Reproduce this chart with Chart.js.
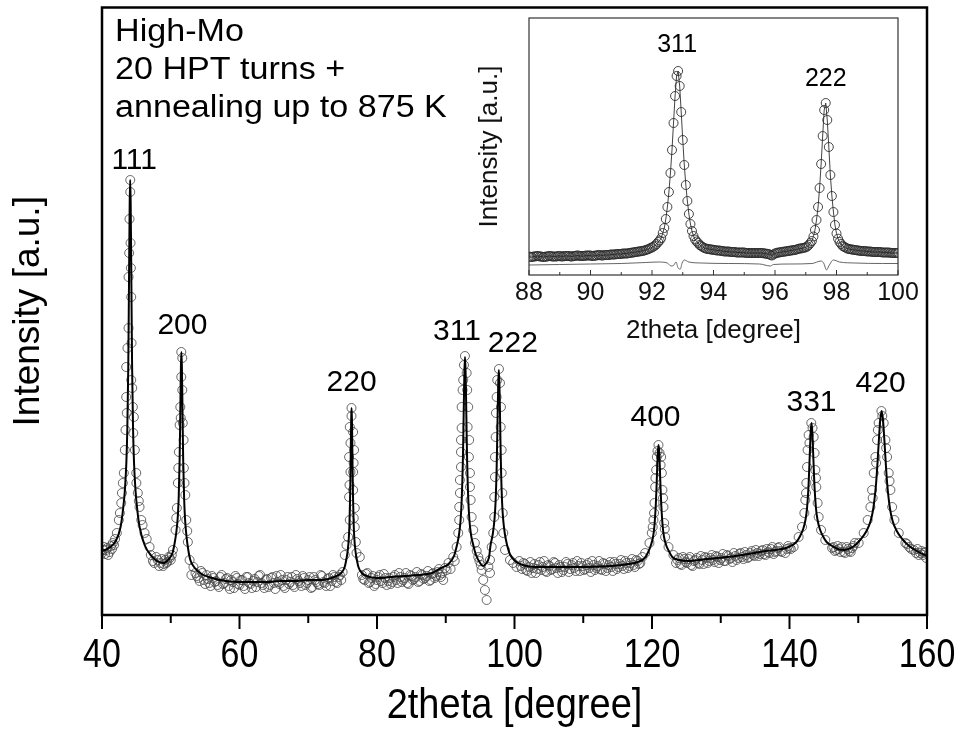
<!DOCTYPE html>
<html>
<head>
<meta charset="utf-8">
<title>High-Mo XRD pattern</title>
<script src="https://cdn.jsdelivr.net/npm/chart.js@4.4.1/dist/chart.umd.min.js"></script>
<style>
  html, body { margin: 0; padding: 0; background: #fff; }
  #wrap { position: relative; width: 963px; height: 731px; }
  #mainChart { position: absolute; left: 0; top: 0; }
  #insetChart { position: absolute; left: 460px; top: 0; }
</style>
</head>
<body>
<div id="wrap">
  <canvas id="mainChart" width="963" height="731"></canvas>
  <canvas id="insetChart" width="470" height="350"></canvas>
</div>
<script>
// full scan 40-160 deg: measured points
const obsAngle = [
  // 111 / 200
  40.0, 40.3, 40.61, 40.9, 41.3, 41.57, 41.9, 42.16, 42.45, 42.6,
  42.8, 42.9, 43.03, 43.17, 43.32, 43.42, 43.52, 43.52, 43.6, 43.7,
  43.86, 43.86, 43.95, 44.0, 44.11, 44.11, 44.15, 44.2, 44.25, 44.3,
  44.25, 44.4, 44.49, 44.55, 44.63, 44.78, 44.98, 45.0, 45.21, 45.35,
  45.46, 45.71, 45.9, 46.19, 46.5, 46.92, 47.4, 47.89, 48.3, 48.7,
  49.0, 49.35, 49.7, 50.0, 50.31, 50.7, 50.8, 50.89, 51.04, 51.1,
  51.18, 51.29, 51.39, 51.45, 51.53, 51.53, 51.68, 51.68, 51.75, 51.87,
  51.91, 52.0, 52.12, 52.26, 52.4, 52.49, 52.74,
  // background
  53.0, 53.3, 53.6, 54.0, 54.4, 54.8, 55.2, 55.6, 56.0, 56.4,
  56.8, 57.2, 57.6, 58.0, 58.4, 58.8, 59.2, 59.6, 60.0, 60.4,
  60.8, 61.2, 61.6, 62.0, 62.4, 62.8, 63.2, 63.6, 64.0, 64.4,
  64.8, 65.2, 65.6, 66.0, 66.4, 66.8, 67.2, 67.6, 68.0, 68.4,
  68.8, 69.2, 69.6, 70.0, 70.4, 70.8, 71.2, 71.6, 72.0, 72.4,
  72.8, 73.2, 73.6, 74.0, 74.4, 74.8, 75.0,
  // 220
  75.31, 75.56, 75.80, 76.04, 75.94, 76.0, 76.14, 75.94, 76.14, 76.04,
  76.29, 76.29, 76.53, 76.67, 76.6, 76.53, 76.53, 76.77, 76.62, 76.77,
  76.92, 77.02, 77.50,
  // background
  77.8, 78.2, 78.6, 79.0, 79.4, 79.8, 80.2, 80.6, 81.0, 81.4,
  81.8, 82.2, 82.6, 83.0, 83.4, 83.8, 84.2, 84.6, 85.0, 85.4,
  85.8, 86.2, 86.6, 87.0, 87.4, 87.8, 88.2, 88.6, 89.0, 89.3,
  89.63, 89.9, 90.12, 90.4, 90.7, 91.09, 91.3, 91.58,
  // 311 / 222
  91.82, 91.96, 91.96, 92.06, 92.06, 92.21, 92.21, 92.21, 92.31, 92.31,
  92.45, 92.54, 92.65, 92.79, 93.04, 93.12, 93.27, 93.18, 93.41, 93.37,
  93.52, 93.52, 93.62, 93.77, 94.0, 94.24, 94.5, 94.73, 94.9, 95.1,
  95.22, 95.45, 95.70, 95.95, 96.2, 96.43, 96.43, 96.68, 96.91, 97.06,
  97.06, 97.16, 97.16, 97.26, 97.30, 97.40, 97.49, 97.74, 97.89, 98.03,
  97.99, 98.13, 98.13, 98.23, 98.28, 98.37, 98.62, 99.34, 99.8, 100.3,
  // background
  100.7, 101.1, 101.5, 101.9, 102.3, 102.7, 103.1, 103.5, 103.9, 104.3,
  104.7, 105.1, 105.5, 105.9, 106.3, 106.7, 107.1, 107.5, 107.9, 108.3,
  108.7, 109.1, 109.5, 109.9, 110.3, 110.7, 111.1, 111.5, 111.9, 112.3,
  112.7, 113.1, 113.5, 113.9, 114.3, 114.7, 115.1, 115.5, 115.9, 116.3,
  116.7, 117.1, 117.5, 117.9, 118.3, 118.6,
  // 400
  119.0, 119.63, 119.97, 120.1, 120.21, 120.3, 120.36, 120.46, 120.5, 120.60,
  120.70, 120.8, 120.94, 121.1, 121.25, 121.33, 121.43, 121.52, 121.6, 121.67,
  121.77, 121.85, 121.91, 122.4, 123.12,
  // background
  123.5, 123.9, 124.3, 124.7, 125.1, 125.5, 125.9, 126.3, 126.7, 127.1,
  127.5, 127.9, 128.3, 128.7, 129.1, 129.5, 129.9, 130.3, 130.7, 131.1,
  131.5, 131.9, 132.3, 132.7, 133.1, 133.5, 133.9, 134.3, 134.7, 135.1,
  135.5, 135.9, 136.3, 136.7, 137.1, 137.5, 137.9, 138.3, 138.7, 139.39,
  139.8, 140.2,
  // 331 / 420
  140.6, 141.33, 141.82, 142.16, 142.30, 142.4, 142.45, 142.55, 142.63, 142.78,
  142.9, 143.17, 143.35, 143.51, 143.65, 143.76, 143.85, 143.90, 144.09, 144.24,
  144.59, 145.21, 146.19, 146.6, 147.0, 147.4, 147.88, 148.3, 148.7, 149.10,
  149.5, 150.06, 150.79, 151.37, 151.77, 152.01, 152.1, 152.25, 152.49, 152.6,
  152.74, 152.85, 152.97, 153.37, 153.5, 153.70, 153.95, 154.05, 154.20, 154.43,
  154.55, 154.68, 154.93, 155.26, 155.89, 156.86, 157.4, 158.07, 158.8, 159.2,
  159.53, 159.9,
  // second pass over the flat stretches
  53.8, 54.2, 54.6, 55.0, 55.4, 55.8, 56.2, 56.6, 57.0, 57.4,
  57.8, 58.2, 58.6, 59.0, 59.4, 59.8, 60.2, 60.6, 61.0, 61.4,
  61.8, 62.2, 62.6, 63.0, 63.4, 63.8, 64.2, 64.6, 65.0, 65.4,
  65.8, 66.2, 66.6, 67.0, 67.4, 67.8, 68.2, 68.6, 69.0, 69.4,
  69.8, 70.2, 70.6, 71.0, 71.4, 71.8, 72.2, 72.6, 73.0, 73.4,
  73.8, 74.2, 74.6,
  78.0, 78.4, 78.8, 79.2, 79.6, 80.0, 80.4, 80.8, 81.2, 81.6,
  82.0, 82.4, 82.8, 83.2, 83.6, 84.0, 84.4, 84.8, 85.2, 85.6,
  86.0, 86.4, 86.8, 87.2, 87.6, 88.0, 88.4, 88.8, 89.15, 89.5,
  100.9, 101.3, 101.7, 102.1, 102.5, 102.9, 103.3, 103.7, 104.1, 104.5,
  104.9, 105.3, 105.7, 106.1, 106.5, 106.9, 107.3, 107.7, 108.1, 108.5,
  108.9, 109.3, 109.7, 110.1, 110.5, 110.9, 111.3, 111.7, 112.1, 112.5,
  112.9, 113.3, 113.7, 114.1, 114.5, 114.9, 115.3, 115.7, 116.1, 116.5,
  116.9, 117.3, 117.7, 118.1,
  123.7, 124.1, 124.5, 124.9, 125.3, 125.7, 126.1, 126.5, 126.9, 127.3,
  127.7, 128.1, 128.5, 128.9, 129.3, 129.7, 130.1, 130.5, 130.9, 131.3,
  131.7, 132.1, 132.5, 132.9, 133.3, 133.7, 134.1, 134.5, 134.9, 135.3,
  135.7, 136.1, 136.5, 136.9, 137.3, 137.7, 138.1, 138.5, 138.9, 139.6,
  140.0,
  40.15, 40.45, 40.75, 41.1, 41.45, 41.75, 47.1, 47.6, 48.1, 48.5,
  48.9, 49.2, 49.5, 49.85, 50.15, 146.4, 146.8, 147.2, 147.6, 148.1,
  148.5, 148.9, 149.3, 157.1, 157.7, 158.4, 158.6, 159.0, 159.4, 159.7
];
const obsIntensity = [
  60, 66, 63, 58, 67, 70, 74, 80, 93, 100,
  110, 120, 130, 140, 163, 183, 216, 246, 200, 265,
  285, 336, 360, 394, 421, 433, 370, 345, 316, 270,
  233, 225, 206, 180, 196, 163, 140, 130, 120, 112,
  106, 93, 88, 80, 74, 66, 52, 56, 47, 54,
  49, 50, 56, 53, 63, 83, 95, 105, 130, 145,
  161, 188, 206, 195, 236, 261, 255, 223, 190, 173,
  145, 130, 118, 93, 82, 71, 53,

  38, 46, 40, 35, 42, 33, 38, 30, 37, 31,
  28, 36, 29, 34, 27, 33, 25, 35, 28, 33,
  24, 36, 29, 32, 26, 37, 30, 25, 34, 28,
  36, 24, 31, 38, 27, 33, 29, 36, 26, 34,
  30, 37, 28, 33, 25, 36, 31, 28, 37, 30,
  34, 27, 38, 31, 36, 33, 41,

  58, 68, 76, 93, 116, 128, 141, 156, 170, 186,
  197, 205, 181, 163, 150, 141, 123, 105, 95, 86,
  71, 60, 56,

  38, 33, 40, 31, 37, 29, 36, 32, 39, 28,
  35, 31, 38, 30, 36, 33, 40, 29, 37, 34,
  41, 32, 38, 35, 42, 33, 40, 37, 44, 36,
  33, 45, 43, 50, 44, 56, 52, 66,

  80, 93, 106, 120, 133, 146, 161, 173, 185, 206,
  223, 233, 248, 257, 240, 223, 206, 186, 173, 156,
  140, 126, 113, 96, 83, 70, 62, 56, 52, 48,
  43, 33, 23, 13, 46, 40, 53, 66, 80, 96,
  116, 136, 156, 176, 200, 216, 233, 244, 230, 206,
  186, 163, 140, 120, 100, 80, 63, 53, 50, 46,

  52, 44, 49, 42, 51, 45, 40, 48, 43, 52,
  41, 47, 44, 50, 40, 46, 43, 51, 41, 48,
  45, 52, 42, 47, 44, 50, 41, 48, 45, 52,
  43, 49, 45, 51, 42, 49, 46, 53, 44, 50,
  47, 54, 46, 52, 50, 56,

  60, 70, 80, 86, 93, 100, 110, 126, 135, 143,
  156, 162, 168, 160, 148, 156, 140, 123, 115, 106,
  90, 84, 76, 66, 58,

  50, 55, 48, 54, 50, 56, 47, 53, 50, 57,
  49, 55, 52, 58, 51, 56, 53, 59, 52, 57,
  55, 60, 53, 59, 56, 61, 55, 60, 58, 63,
  57, 62, 59, 64, 60, 66, 61, 65, 62, 60,
  67, 64,

  66, 76, 86, 100, 113, 120, 130, 146, 163, 178,
  170, 190, 185, 176, 160, 143, 135, 126, 110, 96,
  83, 73, 65, 62, 67, 61, 61, 66, 62, 65,
  70, 70, 80, 93, 106, 123, 115, 140, 156, 150,
  173, 183, 190, 202, 197, 190, 173, 165, 156, 140,
  132, 123, 106, 93, 80, 70, 66, 63, 58, 62,
  60, 55,

  37, 32, 40, 29, 34, 27, 35, 32, 26, 38,
  30, 35, 24, 31, 37, 29, 33, 27, 36, 30,
  25, 34, 31, 38, 28, 33, 26, 35, 30, 37,
  29, 33, 25, 36, 31, 28, 38, 32, 27, 35,
  30, 36, 26, 33, 29, 38, 31, 27, 35, 32,
  36, 30, 38,
  34, 39, 30, 35, 27, 33, 38, 30, 35, 32,
  29, 36, 33, 40, 31, 35, 30, 38, 33, 36,
  31, 39, 34, 37, 32, 39, 35, 41, 38, 40,
  47, 50, 43, 46, 40, 49, 44, 51, 46, 42,
  48, 43, 51, 45, 48, 41, 46, 49, 44, 50,
  42, 47, 50, 43, 48, 45, 52, 43, 47, 44,
  50, 42, 48, 46, 51, 44, 49, 47, 52, 45,
  50, 48, 53, 49,
  53, 49, 56, 51, 54, 48, 52, 55, 49, 53,
  56, 50, 55, 53, 57, 50, 55, 52, 58, 54,
  51, 57, 55, 60, 54, 58, 56, 62, 57, 60,
  59, 63, 58, 61, 64, 59, 62, 66, 61, 64,
  65,
  63, 59, 65, 61, 64, 68, 58, 50, 53, 50,
  47, 53, 51, 55, 58, 66, 63, 64, 66, 60,
  64, 61, 67, 69, 64, 60, 64, 60, 58, 61
];

// refined profile for the full scan
const fitAngle = [
  40.0, 41.0, 42.0, 42.7, 43.05, 43.33, 43.54, 43.68, 43.82, 43.89,
  43.96, 44.03, 44.10, 44.17, 44.24, 44.31, 44.38, 44.52, 44.66, 44.87,
  45.15, 45.5, 46.2, 47.2, 48.0, 49.0, 49.6, 50.25, 50.57, 50.83,
  51.03, 51.16, 51.29, 51.355, 51.42, 51.485, 51.55, 51.615, 51.68, 51.745,
  51.81, 51.94, 52.07, 52.27, 52.53, 52.85, 53.5, 54.5, 56.0, 58.0,
  60.0, 62.0, 64.0, 66.0, 68.0, 70.0, 72.0, 74.1, 74.8, 75.3,
  75.55, 75.75, 75.9, 76.0, 76.1, 76.15, 76.2, 76.25, 76.3, 76.35,
  76.4, 76.45, 76.5, 76.6, 76.7, 76.85, 77.05, 77.3, 77.8, 78.5,
  80.0, 82.0, 84.0, 86.0, 88.0, 89.3, 90.4, 91.2, 91.6, 91.92,
  92.16, 92.32, 92.48, 92.56, 92.64, 92.72, 92.80, 92.88, 92.96, 93.04,
  93.12, 93.28, 93.44, 93.68, 94.0, 94.4, 95.0, 95.4, 95.8, 96.3,
  96.52, 96.84, 97.08, 97.24, 97.40, 97.48, 97.56, 97.64, 97.72, 97.80,
  97.88, 97.96, 98.04, 98.20, 98.36, 98.60, 98.92, 99.32, 100.1, 101.2,
  103.0, 106.0, 110.0, 114.0, 116.55, 117.95, 118.95, 119.45, 119.85, 120.15,
  120.35, 120.55, 120.65, 120.75, 120.85, 120.95, 121.05, 121.15, 121.25, 121.35,
  121.55, 121.75, 122.05, 122.45, 122.95, 123.95, 125.5, 128.0, 131.0, 134.0,
  136.5, 138.0, 139.9, 141.0, 141.55, 141.99, 142.32, 142.54, 142.76, 142.87,
  142.98, 143.09, 143.20, 143.31, 143.42, 143.53, 143.64, 143.86, 144.08, 144.41,
  144.85, 145.4, 146.2, 147.0, 148.0, 148.9, 149.4, 150.4, 151.2, 151.8,
  152.2, 152.6, 152.8, 153.0, 153.2, 153.4, 153.6, 153.8, 154.0, 154.2,
  154.6, 155.0, 155.6, 156.4, 157.4, 158.5, 160.0
];
const fitIntensity = [
  62, 65, 72, 86, 103, 123, 150, 183, 246, 299,
  358, 411, 433, 411, 358, 299, 246, 183, 150, 123,
  102, 85, 68, 57, 52, 50, 53, 60, 70, 82,
  97, 116, 153, 183, 218, 248, 261, 248, 218, 183,
  153, 116, 95, 78, 64, 53, 45, 39, 35, 32,
  31, 31, 31, 32, 32, 33, 33, 37, 40, 46,
  54, 63, 75, 90, 120, 143, 171, 195, 205, 195,
  171, 143, 120, 90, 75, 63, 54, 46, 40, 37,
  35, 36, 37, 38, 40, 45, 49, 57, 67, 78,
  93, 113, 149, 179, 213, 243, 256, 243, 213, 179,
  149, 113, 93, 78, 68, 58, 50, 47, 49, 56,
  68, 79, 93, 110, 144, 172, 203, 231, 243, 231,
  203, 172, 144, 110, 93, 79, 68, 59, 52, 48,
  46, 46, 46, 47, 49, 51, 55, 61, 68, 76,
  87, 108, 124, 144, 161, 168, 161, 144, 124, 108,
  87, 76, 68, 62, 56, 53, 52, 54, 56, 59,
  62, 63, 66, 71, 77, 84, 93, 104, 126, 144,
  164, 182, 190, 182, 164, 144, 126, 104, 93, 84,
  77, 71, 67, 64, 63, 65, 67, 74, 82, 92,
  105, 130, 150, 173, 193, 202, 193, 173, 150, 130,
  105, 92, 82, 74, 67, 62, 57
];

const peakHkl = ['111', '200', '220', '311', '222', '400', '331', '420'];
const peakAngle = [44.10, 51.55, 76.3, 92.80, 97.72, 120.95, 143.20, 153.4];

// detail scan 88-100 deg, 0.05 deg steps
const insetAngle = [
  88.00, 88.05, 88.10, 88.15, 88.20, 88.25, 88.30, 88.35, 88.40, 88.45,
  88.50, 88.55, 88.60, 88.65, 88.70, 88.75, 88.80, 88.85, 88.90, 88.95,
  89.00, 89.05, 89.10, 89.15, 89.20, 89.25, 89.30, 89.35, 89.40, 89.45,
  89.50, 89.55, 89.60, 89.65, 89.70, 89.75, 89.80, 89.85, 89.90, 89.95,
  90.00, 90.05, 90.10, 90.15, 90.20, 90.25, 90.30, 90.35, 90.40, 90.45,
  90.50, 90.55, 90.60, 90.65, 90.70, 90.75, 90.80, 90.85, 90.90, 90.95,
  91.00, 91.05, 91.10, 91.15, 91.20, 91.25, 91.30, 91.35, 91.40, 91.45,
  91.50, 91.55, 91.60, 91.65, 91.70, 91.75, 91.80, 91.85, 91.90, 91.95,
  92.00, 92.05, 92.10, 92.15, 92.20, 92.25, 92.30, 92.35, 92.40, 92.45,
  92.50, 92.55, 92.60, 92.65, 92.70, 92.75, 92.80, 92.85, 92.90, 92.95,
  93.00, 93.05, 93.10, 93.15, 93.20, 93.25, 93.30, 93.35, 93.40, 93.45,
  93.50, 93.55, 93.60, 93.65, 93.70, 93.75, 93.80, 93.85, 93.90, 93.95,
  94.00, 94.05, 94.10, 94.15, 94.20, 94.25, 94.30, 94.35, 94.40, 94.45,
  94.50, 94.55, 94.60, 94.65, 94.70, 94.75, 94.80, 94.85, 94.90, 94.95,
  95.00, 95.05, 95.10, 95.15, 95.20, 95.25, 95.30, 95.35, 95.40, 95.45,
  95.50, 95.55, 95.60, 95.65, 95.70, 95.75, 95.80, 95.85, 95.90, 95.95,
  96.00, 96.05, 96.10, 96.15, 96.20, 96.25, 96.30, 96.35, 96.40, 96.45,
  96.50, 96.55, 96.60, 96.65, 96.70, 96.75, 96.80, 96.85, 96.90, 96.95,
  97.00, 97.05, 97.10, 97.15, 97.20, 97.25, 97.30, 97.35, 97.40, 97.45,
  97.50, 97.55, 97.60, 97.65, 97.70, 97.75, 97.80, 97.85, 97.90, 97.95,
  98.00, 98.05, 98.10, 98.15, 98.20, 98.25, 98.30, 98.35, 98.40, 98.45,
  98.50, 98.55, 98.60, 98.65, 98.70, 98.75, 98.80, 98.85, 98.90, 98.95,
  99.00, 99.05, 99.10, 99.15, 99.20, 99.25, 99.30, 99.35, 99.40, 99.45,
  99.50, 99.55, 99.60, 99.65, 99.70, 99.75, 99.80, 99.85, 99.90, 99.95,
  100.00
];
const insetIntensity = [
  18.5, 18, 18, 18.5, 18.5, 19, 19, 18.5, 18.5, 18,
  18, 18.5, 18.5, 19, 19, 18.5, 18.5, 18.5, 18.5, 19,
  19, 18.5, 18.5, 19, 19, 19, 19, 18.5, 18.5, 19,
  19, 19.5, 19.5, 19, 19, 19, 19, 19.5, 19.5, 19.5,
  19.5, 19, 19, 19.5, 19.5, 20, 20, 19.5, 19.5, 20,
  20, 20, 20, 20.5, 20.5, 20.5, 20.5, 21, 21, 21,
  21, 21.5, 21.5, 21.5, 21.5, 22, 22, 22.5, 22.5, 23,
  23, 23.5, 23.5, 24, 24, 24.5, 25, 25.5, 26, 27,
  27.5, 28.5, 29.5, 31, 33, 34.5, 37, 42, 47, 56,
  68, 83, 102, 125, 152, 179, 199, 204, 189, 163,
  135, 110, 90, 74, 61, 51, 44, 39, 35.5, 33.5,
  32, 30, 29, 28, 27, 26.5, 26, 26, 25.5, 25.5,
  25, 25, 24.5, 24.5, 24.5, 24, 24, 23.5, 23.5, 23.5,
  23.5, 23, 23, 23, 23, 22.5, 22.5, 22.5, 22.5, 22.5,
  22.5, 22, 22, 22, 22, 22, 22, 22, 22, 22,
  22, 22, 22, 21.5, 21.5, 21, 21, 20, 19.5, 20.5,
  21.5, 22, 22.5, 22.5, 23, 23, 23.5, 23.5, 24, 24,
  24.5, 24.5, 25, 25, 25.5, 26, 26.5, 26.5, 27, 27.3,
  27.6, 28.6, 30, 32, 34, 38.5, 45, 55, 68, 87,
  111, 139, 165, 172, 155, 128, 100, 79, 63, 50,
  41.5, 36.3, 33, 31, 29, 28.2, 27.3, 26.5, 26, 25.8,
  25.5, 25.2, 25, 24.8, 24.5, 24.3, 24, 24, 24, 23.8,
  23.5, 23.5, 23.5, 23.2, 23, 23, 23, 23, 23, 22.8,
  22.5, 22.5, 22.5, 22.5, 22.5, 22.2, 22, 22, 22, 22,
  22
];

// difference curve under the detail scan
const diffAngle = [
  88, 89, 90, 91, 91.8, 92.2, 92.5, 92.62, 92.7, 92.78,
  92.85, 92.92, 92.98, 93.05, 93.2, 93.6, 94.5, 95.5, 95.85, 95.95,
  96.5, 97.2, 97.5, 97.58, 97.68, 97.75, 97.9, 98.1, 98.6, 99.5, 100
];
const diffIntensity = [
  10, 10.5, 11, 11.5, 12.5, 13, 12, 9, 9.5, 13,
  7, 6, 12, 15, 13, 12, 11.5, 11, 9, 10.5,
  11, 11.5, 14, 12, 5, 9, 15, 13, 12, 11.5, 11.5
];

const insetHkl = ['311', '222'];
const insetPeakAngle = [92.85, 97.65];

const noteLines = ['High-Mo', '20 HPT turns +', 'annealing up to 875 K'];

const FAMILY = '"Liberation Sans", Arial, Helvetica, sans-serif';

function pairs(xs, ys) {
  return xs.map((x, i) => ({ x: x, y: ys[i] }));
}

// box around the plot area plus tick marks on the bottom axis
const frameTicks = {
  id: 'frameTicks',
  beforeDraw(chart, args, opts) {
    if (!opts.fill) return;
    const { ctx, chartArea: a } = chart;
    ctx.save();
    ctx.fillStyle = opts.fill;
    ctx.fillRect(a.left, a.top, a.right - a.left, a.bottom - a.top);
    ctx.restore();
  },
  afterDatasetsDraw(chart, args, opts) {
    const { ctx, chartArea: a } = chart;
    const x = chart.scales.x;
    ctx.save();
    ctx.strokeStyle = opts.color;
    ctx.lineWidth = opts.frameWidth;
    ctx.strokeRect(a.left, a.top, a.right - a.left, a.bottom - a.top);
    ctx.lineWidth = opts.tickWidth;
    for (let v = x.min; v <= x.max + 1e-9; v += opts.minorStep) {
      const px = x.getPixelForValue(v);
      const r = v / opts.majorStep;
      const major = Math.abs(r - Math.round(r)) < 1e-6;
      const len = (major ? opts.majorLen : opts.minorLen) * opts.dir;
      ctx.beginPath();
      ctx.moveTo(px, a.bottom);
      ctx.lineTo(px, a.bottom + len);
      ctx.stroke();
    }
    ctx.restore();
  }
};

// reflection indices above each peak
const hklLabels = {
  id: 'hklLabels',
  afterDraw(chart, args, opts) {
    const { ctx } = chart;
    const x = chart.scales.x, y = chart.scales.y;
    ctx.save();
    ctx.font = opts.font;
    ctx.fillStyle = '#000';
    ctx.textAlign = 'center';
    ctx.textBaseline = 'alphabetic';
    opts.labels.forEach((text, i) => {
      const k = opts.angles.indexOf(opts.at[i]);
      const px = x.getPixelForValue(opts.at[i]) + opts.shift[i][0];
      const py = y.getPixelForValue(opts.values[k]) + opts.shift[i][1];
      ctx.fillText(text, px, py);
    });
    ctx.restore();
  }
};

// sample description in the upper left corner
const noteText = {
  id: 'noteText',
  afterDraw(chart, args, opts) {
    const { ctx } = chart;
    ctx.save();
    ctx.font = opts.font;
    ctx.fillStyle = '#000';
    ctx.textBaseline = 'alphabetic';
    opts.lines.forEach((line, i) => {
      ctx.save();
      ctx.translate(opts.x, opts.y[i]);
      ctx.scale(opts.stretch, 1);
      ctx.fillText(line, 0, 0);
      ctx.restore();
    });
    ctx.restore();
  }
};

// bottom axis numbers and title, drawn in a taller face
const axisText = {
  id: 'axisText',
  afterDraw(chart, args, opts) {
    const { ctx, chartArea: a } = chart;
    const x = chart.scales.x;
    ctx.save();
    ctx.fillStyle = '#000';
    ctx.textAlign = 'center';
    ctx.textBaseline = 'middle';
    ctx.font = opts.tickFont;
    x.ticks.forEach((t) => {
      ctx.save();
      ctx.translate(x.getPixelForValue(t.value), opts.tickY);
      ctx.scale(1, opts.tickTall);
      ctx.fillText(String(t.value), 0, 0);
      ctx.restore();
    });
    ctx.font = opts.titleFont;
    ctx.translate((a.left + a.right) / 2, opts.titleY);
    ctx.scale(1, opts.titleTall);
    ctx.fillText(opts.title, 0, 0);
    ctx.restore();
  }
};

new Chart(document.getElementById('mainChart'), {
  type: 'line',
  data: {
    datasets: [
      {
        label: 'fit',
        data: pairs(fitAngle, fitIntensity),
        borderColor: '#000',
        borderWidth: 2,
        pointRadius: 0,
        cubicInterpolationMode: 'monotone',
        order: 0
      },
      {
        label: 'measured',
        data: pairs(obsAngle, obsIntensity),
        showLine: false,
        pointRadius: 4.5,
        pointBorderWidth: 1,
        pointBorderColor: 'rgba(70, 70, 70, 0.8)',
        pointBackgroundColor: 'rgba(0, 0, 0, 0)',
        order: 1
      }
    ]
  },
  options: {
    responsive: false,
    animation: false,
    events: [],
    layout: { padding: { top: 7.5, right: 36, left: 0, bottom: 0 } },
    plugins: {
      legend: { display: false },
      tooltip: { enabled: false },
      frameTicks: {
        color: '#000', frameWidth: 2.5, tickWidth: 2,
        minorStep: 10, majorStep: 20, majorLen: 14, minorLen: 8, dir: 1
      },
      hklLabels: {
        font: '30px ' + FAMILY,
        labels: peakHkl,
        at: peakAngle,
        angles: fitAngle,
        values: fitIntensity,
        shift: [[4, -11], [1, -18], [0, -17], [-8, -17], [14, -18], [-3, -19], [0, -12], [-1, -19]]
      },
      noteText: {
        font: '31px ' + FAMILY,
        lines: noteLines,
        x: 115,
        y: [41, 78.5, 117],
        stretch: 1.1
      },
      axisText: {
        tickFont: '34px ' + FAMILY,
        tickY: 656,
        tickTall: 1.2,
        titleFont: '38px ' + FAMILY,
        titleY: 706,
        titleTall: 1.1,
        title: '2theta [degree]'
      }
    },
    scales: {
      x: {
        type: 'linear',
        min: 40,
        max: 160,
        afterFit: (s) => { s.height = 116; s.paddingLeft = 0; s.paddingRight = 0; },
        grid: { display: false, drawTicks: false },
        border: { display: false },
        ticks: { stepSize: 20, display: false },
        title: { display: false }
      },
      y: {
        min: -2,
        max: 605.5,
        afterFit: (s) => { s.width = 102; },
        grid: { display: false, drawTicks: false },
        border: { display: false },
        ticks: { display: false },
        title: {
          display: true, text: 'Intensity [a.u.]', color: '#000',
          font: { family: FAMILY, size: 37 }, padding: { top: 7, bottom: 0 }
        }
      }
    }
  },
  plugins: [frameTicks, hklLabels, noteText, axisText]
});

new Chart(document.getElementById('insetChart'), {
  type: 'line',
  data: {
    datasets: [
      {
        label: 'difference',
        data: pairs(diffAngle, diffIntensity),
        borderColor: '#666',
        borderWidth: 1,
        pointRadius: 0,
        cubicInterpolationMode: 'monotone',
        order: 1
      },
      {
        label: 'measured',
        data: pairs(insetAngle, insetIntensity),
        borderColor: '#444',
        borderWidth: 1,
        pointRadius: 4.5,
        pointBorderWidth: 1,
        pointBorderColor: 'rgba(40, 40, 40, 0.85)',
        pointBackgroundColor: 'rgba(0, 0, 0, 0)',
        order: 0
      }
    ]
  },
  options: {
    responsive: false,
    animation: false,
    events: [],
    layout: { padding: { top: 18, right: 32, left: 0, bottom: 0 } },
    plugins: {
      legend: { display: false },
      tooltip: { enabled: false },
      frameTicks: {
        fill: '#fff', color: '#333', frameWidth: 1.2, tickWidth: 1,
        minorStep: 1, majorStep: 2, majorLen: 5, minorLen: 3, dir: -1
      },
      hklLabels: {
        font: '25px ' + FAMILY,
        labels: insetHkl,
        at: insetPeakAngle,
        angles: insetAngle,
        values: insetIntensity,
        shift: [[-1, -19], [0, -17]]
      }
    },
    scales: {
      x: {
        type: 'linear',
        min: 88,
        max: 100,
        afterFit: (s) => { s.height = 75; s.paddingLeft = 0; s.paddingRight = 0; },
        grid: { display: false, drawTicks: false },
        border: { display: false },
        ticks: {
          stepSize: 2, color: '#111', padding: 3.5, maxRotation: 0, autoSkip: false,
          font: { family: FAMILY, size: 25 }
        },
        title: {
          display: true, text: '2theta [degree]', color: '#111',
          font: { family: FAMILY, size: 26 }, padding: { top: 0, bottom: 3.4 }
        }
      },
      y: {
        min: 0,
        max: 257,
        afterFit: (s) => { s.width = 69; },
        grid: { display: false, drawTicks: false },
        border: { display: false },
        ticks: { display: false },
        title: {
          display: true, text: 'Intensity [a.u.]', color: '#111',
          font: { family: FAMILY, size: 26 }, padding: { top: 14.4, bottom: 0 }
        }
      }
    }
  },
  plugins: [frameTicks, hklLabels]
});
</script>
</body>
</html>
